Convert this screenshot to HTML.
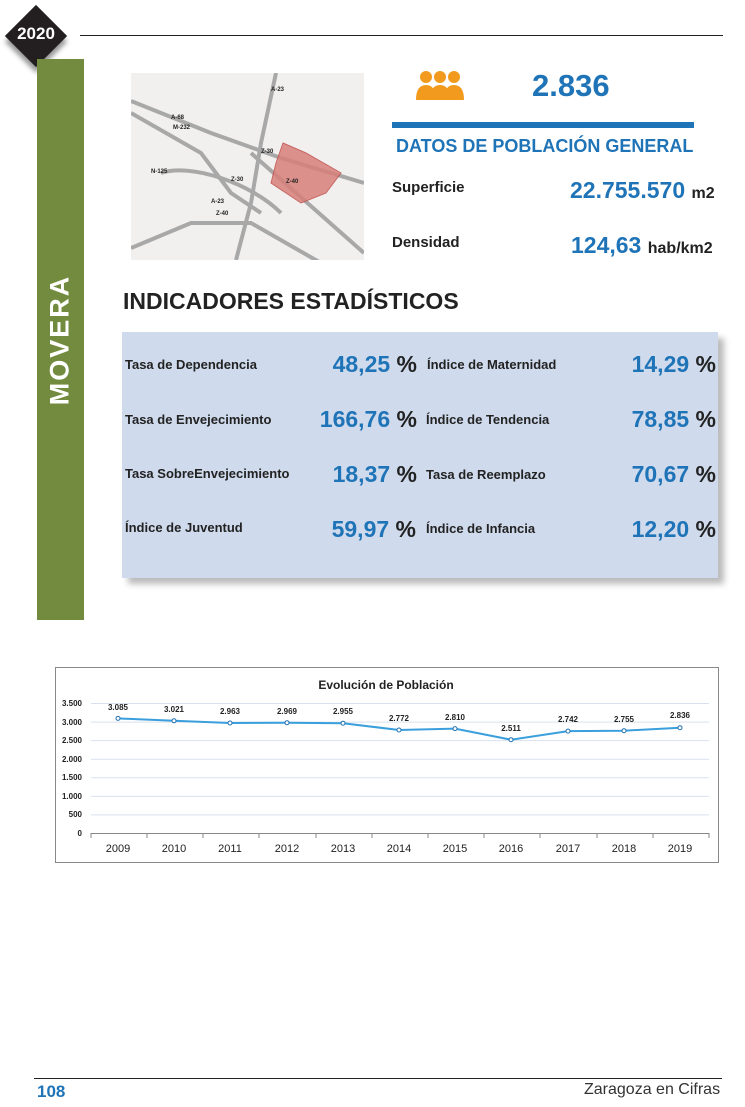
<!DOCTYPE html>
<html><head><meta charset="utf-8"><style>
body{margin:0;width:745px;height:1107px;background:#fff;position:relative;font-family:"Liberation Sans","DejaVu Sans",sans-serif;overflow:hidden}
.a{position:absolute;white-space:nowrap}
.lab{font-size:13px;font-weight:bold;color:#222}
.val{font-size:23px;font-weight:bold;color:#1f74b8;text-align:right;width:120px}
.val b{color:#222}
</style></head><body>
<div class="a" style="left:80px;top:35px;width:643px;height:1px;background:#222"></div>
<div class="a" style="left:14px;top:14px;width:44px;height:44px;background:#231f20;transform:rotate(45deg);box-shadow:4px 4px 5px #999"></div>
<div class="a" style="left:13px;top:24px;width:46px;text-align:center;color:#fff;font-weight:bold;font-size:17px">2020</div>
<div class="a" style="left:37px;top:59px;width:47px;height:561px;background:#728b3e"></div>
<div class="a" style="left:60px;top:340px;transform:translate(-50%,-50%) rotate(-90deg);color:#fff;font-weight:bold;font-size:27px;letter-spacing:2px">MOVERA</div>
<svg class="a" style="left:131px;top:73px" width="233" height="187">
<rect width="233" height="187" fill="#f1f0ee"/>
<g stroke="#a8a8a8" stroke-width="4" fill="none">
<path d="M0,28 L80,60 L150,85 L233,110"/><path d="M0,40 L70,80 L100,120 L130,140"/>
<path d="M145,0 L130,70 L120,130 L105,187"/><path d="M0,175 L60,150 L120,150 L190,190"/>
<path d="M30,100 C60,90 120,110 150,140"/><path d="M120,80 L233,180"/>
</g>
<path d="M152,70 L175,80 L210,100 L195,120 L170,130 L140,110 L145,90Z" fill="#d9807a" stroke="#c0504d" opacity="0.85"/>
<g font-size="6" font-weight="bold" fill="#222"><text x="140" y="18">A-23</text><text x="40" y="46">A-68</text><text x="42" y="56">M-232</text><text x="20" y="100">N-125</text><text x="100" y="108">Z-30</text><text x="80" y="130">A-23</text><text x="85" y="142">Z-40</text><text x="155" y="110">Z-40</text><text x="130" y="80">Z-30</text></g>
</svg>
<svg class="a" style="left:412px;top:68px" width="56" height="34"><g fill="#f29a1e"><circle cx="14" cy="9" r="6"/><circle cx="28" cy="9" r="6"/><circle cx="42" cy="9" r="6"/><path d="M4,32 Q4,17 14,17 Q24,17 24,32Z"/><path d="M18,32 Q18,17 28,17 Q38,17 38,32Z"/><path d="M32,32 Q32,17 42,17 Q52,17 52,32Z"/></g></svg>
<div class="a" style="left:532px;top:68px;font-size:31px;font-weight:bold;color:#1f74b8">2.836</div>
<div class="a" style="left:392px;top:122px;width:302px;height:6px;background:#1f74b8"></div>
<div class="a" style="left:396px;top:136px;font-size:18px;font-weight:bold;color:#1f74b8">DATOS DE POBLACIÓN GENERAL</div>
<div class="a" style="left:392px;top:179px;font-size:15px;font-weight:bold;color:#222">Superficie</div>
<div class="a" style="left:570px;top:177px;font-size:23px;font-weight:bold;color:#1f74b8">22.755.570 <span style="font-size:16px;color:#222">m2</span></div>
<div class="a" style="left:392px;top:234px;font-size:15px;font-weight:bold;color:#222">Densidad</div>
<div class="a" style="left:571px;top:232px;font-size:23px;font-weight:bold;color:#1f74b8">124,63 <span style="font-size:16px;color:#222">hab/km2</span></div>
<div class="a" style="left:123px;top:288px;font-size:23px;font-weight:bold;color:#222">INDICADORES ESTADÍSTICOS</div>
<div class="a" style="left:122px;top:332px;width:596px;height:246px;background:#cfdaec;box-shadow:6px 6px 6px #bbb"></div>
<div class="a lab" style="left:125px;top:357px">Tasa de Dependencia</div>
<div class="a lab" style="left:125px;top:412px">Tasa de Envejecimiento</div>
<div class="a lab" style="left:125px;top:466px">Tasa SobreEnvejecimiento</div>
<div class="a lab" style="left:125px;top:520px">Índice de Juventud</div>
<div class="a lab" style="left:427px;top:357px">Índice de Maternidad</div>
<div class="a lab" style="left:426px;top:412px">Índice de Tendencia</div>
<div class="a lab" style="left:426px;top:467px">Tasa de Reemplazo</div>
<div class="a lab" style="left:426px;top:521px">Índice de Infancia</div>
<div class="a val" style="left:297px;top:351px">48,25 <b>%</b></div>
<div class="a val" style="left:297px;top:406px">166,76 <b>%</b></div>
<div class="a val" style="left:297px;top:461px">18,37 <b>%</b></div>
<div class="a val" style="left:296px;top:516px">59,97 <b>%</b></div>
<div class="a val" style="left:596px;top:351px">14,29 <b>%</b></div>
<div class="a val" style="left:596px;top:406px">78,85 <b>%</b></div>
<div class="a val" style="left:596px;top:461px">70,67 <b>%</b></div>
<div class="a val" style="left:596px;top:516px">12,20 <b>%</b></div>
<svg class="a" style="left:0;top:0" width="745" height="1107">
<rect x="55.5" y="667.5" width="663" height="195" fill="#fff" stroke="#888"/>
<text x="386" y="689" text-anchor="middle" font-size="12" font-weight="bold" fill="#222">Evolución de Población</text>
<g stroke="#d9e1ef" stroke-width="1">
<line x1="91" x2="709" y1="703.5" y2="703.5"/><line x1="91" x2="709" y1="722.1" y2="722.1"/><line x1="91" x2="709" y1="740.6" y2="740.6"/><line x1="91" x2="709" y1="759.2" y2="759.2"/><line x1="91" x2="709" y1="777.8" y2="777.8"/><line x1="91" x2="709" y1="796.4" y2="796.4"/><line x1="91" x2="709" y1="814.9" y2="814.9"/></g>
<line x1="91" x2="709" y1="833.5" y2="833.5" stroke="#888"/>
<g stroke="#888"><line x1="91" x2="91" y1="833" y2="838"/><line x1="147" x2="147" y1="833" y2="838"/><line x1="203" x2="203" y1="833" y2="838"/><line x1="259" x2="259" y1="833" y2="838"/><line x1="316" x2="316" y1="833" y2="838"/><line x1="372" x2="372" y1="833" y2="838"/><line x1="428" x2="428" y1="833" y2="838"/><line x1="484" x2="484" y1="833" y2="838"/><line x1="540" x2="540" y1="833" y2="838"/><line x1="597" x2="597" y1="833" y2="838"/><line x1="653" x2="653" y1="833" y2="838"/><line x1="709" x2="709" y1="833" y2="838"/></g>
<g font-size="8" font-weight="bold" fill="#222" text-anchor="end"><text x="82" y="706">3.500</text><text x="82" y="725">3.000</text><text x="82" y="743">2.500</text><text x="82" y="762">2.000</text><text x="82" y="780">1.500</text><text x="82" y="799">1.000</text><text x="82" y="817">500</text><text x="82" y="836">0</text></g>
<g font-size="11" fill="#222" text-anchor="middle"><text x="118" y="852">2009</text><text x="174" y="852">2010</text><text x="230" y="852">2011</text><text x="287" y="852">2012</text><text x="343" y="852">2013</text><text x="399" y="852">2014</text><text x="455" y="852">2015</text><text x="511" y="852">2016</text><text x="568" y="852">2017</text><text x="624" y="852">2018</text><text x="680" y="852">2019</text></g>
<polyline fill="none" stroke="#3a9fdc" stroke-width="2" points="118,718.4 174,720.8 230,723 287,722.7 343,723.2 399,730 455,728.6 511,739.7 568,731.1 624,730.7 680,727.7"/>
<g fill="#fff" stroke="#1f6fb0" stroke-width="1"><circle cx="118" cy="718.4" r="2"/><circle cx="174" cy="720.8" r="2"/><circle cx="230" cy="723" r="2"/><circle cx="287" cy="722.7" r="2"/><circle cx="343" cy="723.2" r="2"/><circle cx="399" cy="730" r="2"/><circle cx="455" cy="728.6" r="2"/><circle cx="511" cy="739.7" r="2"/><circle cx="568" cy="731.1" r="2"/><circle cx="624" cy="730.7" r="2"/><circle cx="680" cy="727.7" r="2"/></g>
<g font-size="8" font-weight="bold" fill="#222" text-anchor="middle"><text x="118" y="710">3.085</text><text x="174" y="712">3.021</text><text x="230" y="714">2.963</text><text x="287" y="714">2.969</text><text x="343" y="714">2.955</text><text x="399" y="721">2.772</text><text x="455" y="720">2.810</text><text x="511" y="731">2.511</text><text x="568" y="722">2.742</text><text x="624" y="722">2.755</text><text x="680" y="718">2.836</text></g>
</svg>
<div class="a" style="left:34px;top:1078px;width:688px;height:1px;background:#222"></div>
<div class="a" style="left:37px;top:1082px;font-size:17px;font-weight:bold;color:#1f74b8">108</div>
<div class="a" style="left:584px;top:1081px;font-size:16px;color:#333">Zaragoza en Cifras</div>
</body></html>
